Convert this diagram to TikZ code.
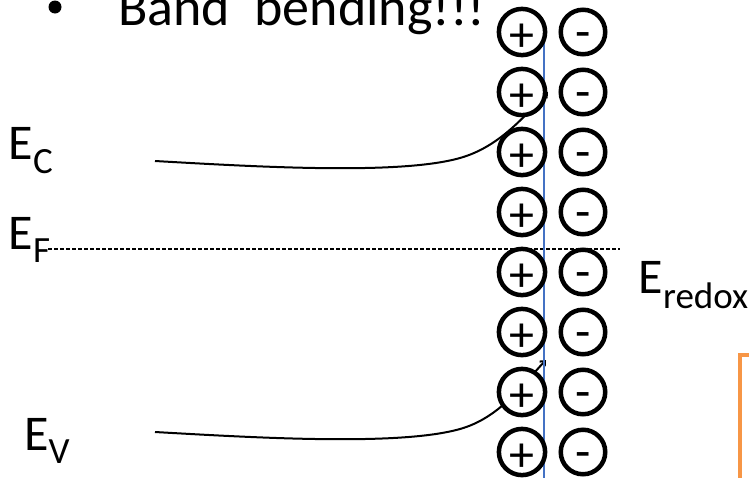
\documentclass[tikz,border=0pt]{standalone}
\usepackage{fontspec}
\setmainfont{Carlito}
\usetikzlibrary{arrows.meta}
\definecolor{interface}{HTML}{4472C4}
\definecolor{boxorange}{HTML}{F79646}
\newcommand{\mainsize}{\fontsize{50}{60}\selectfont}
\newcommand{\titlesize}{\fontsize{54}{64}\selectfont}
\newcommand{\subsize}{\fontsize{37}{44}\selectfont}
\tikzset{
  x=1pt, y=-1pt,
  charge/.style={circle, draw=black, line width=4.5pt, fill=white,
    minimum size=44.5pt, inner sep=0pt, font=\mainsize},
  poscharge/.style={charge, text height=39pt, text depth=0pt},
  negcharge/.style={charge, text height=33pt, text depth=0pt},
  lbl/.style={anchor=base west, inner sep=0pt, font=\mainsize},
  band/.style={line width=2pt, -{Straight Barb[length=4pt,width=7pt]}},
}
\begin{document}
\begin{tikzpicture}
\useasboundingbox (0,0) rectangle (749,477);
\clip (0,0) rectangle (749,477);

% heading
\node[circle, fill=black, inner sep=0pt, minimum size=13pt] (bullet) at (55,7) {};
\node[lbl, font=\titlesize] (title) at (118,25) {Band\ \ bending!!!};

% energy labels
\node[lbl] (ec) at (8.5,159) {E\raisebox{-14pt}{\subsize C}};
\node[lbl] (ef) at (8.5,249) {E\raisebox{-13pt}{\subsize F}};
\node[lbl] (ev) at (24,450) {E\raisebox{-13pt}{\subsize V}};
\node[lbl] (eredox) at (638.5,293) {E\raisebox{-15pt}{\subsize redox}};

% band edges bending up towards the interface
\coordinate (ecstart) at (155,161);
\coordinate (ecend) at (548,92);
\coordinate (evstart) at (155,432);
\coordinate (evend) at (546,360);
\draw[band] (ecstart) .. controls (260,167) and (400,175) .. (460,158)
  .. controls (500,146.7) and (525,115) .. (ecend);
\draw[band] (evstart) .. controls (260,438) and (400,446) .. (460,429)
  .. controls (500,417.7) and (523,384) .. (evend);

% Fermi level
\coordinate (efstart) at (48,249);
\coordinate (efend) at (620,249);
\draw[line width=1.3pt, dash pattern=on 4pt off 2pt] (efstart) -- (efend);

% interface
\coordinate (itop) at (544,36);
\coordinate (ibot) at (544,480);
\draw[interface, line width=2pt] (itop) -- (ibot);

% double layer charges
\foreach \i/\y in {1/32,2/92,3/152,4/212,5/272,6/332,7/392,8/452}{
  \node[poscharge] (p\i) at (522,\y) {+};
  \node[negcharge] (n\i) at (583,\y) {-};
}

% corner box
\draw[boxorange, line width=4pt] (740,355) rectangle (820,540);
\end{tikzpicture}
\end{document}
